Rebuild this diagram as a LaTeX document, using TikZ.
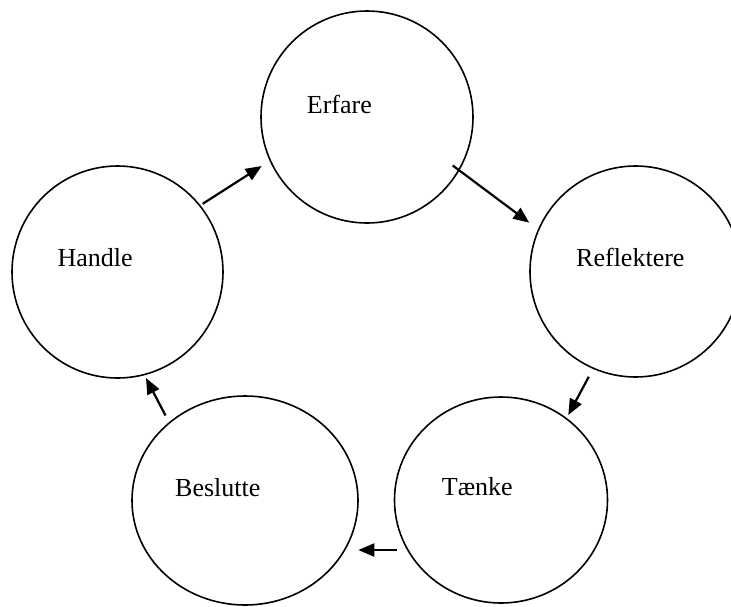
\documentclass[tikz,border=0pt]{standalone}
\usepackage{fontspec}
\setmainfont{Liberation Serif}
\usetikzlibrary{shapes.geometric,arrows.meta}
\begin{document}
\begin{tikzpicture}[x=1pt,y=-1pt,
  blob/.style={draw=black,ellipse,line width=1.6pt,inner sep=0pt,outer sep=0pt},
  lbl/.style={anchor=base west,inner sep=0pt,font=\fontsize{26}{30}\selectfont},
  flow/.style={line width=2.2pt,-{Triangle[length=16pt,width=13pt]}}]
\useasboundingbox (0,0) rectangle (731,606);
\node[blob,minimum width=212pt,minimum height=212pt] (erfare) at (367,117) {};
\node[blob,minimum width=211pt,minimum height=211pt] (refl) at (635.5,271.5) {};
\node[blob,minimum width=213pt,minimum height=206pt] (taenke) at (501,500) {};
\node[blob,minimum width=226pt,minimum height=209pt] (beslut) at (245,500.5) {};
\node[blob,minimum width=211pt,minimum height=212pt] (handle) at (117.5,272) {};
\node[lbl] (terfare) at (306.7,113) {Erfare};
\node[lbl] (trefl) at (576,266.7) {Reflektere};
\node[lbl] (ttaenke) at (441.7,495.7) {Tænke};
\node[lbl] (tbeslut) at (175,496.7) {Beslutte};
\node[lbl] (thandle) at (57.3,266.7) {Handle};
\coordinate (a1) at (452.7,165.5);
\coordinate (b1) at (529.3,222.7);
\coordinate (a2) at (588.8,376.7);
\coordinate (b2) at (568.3,415);
\coordinate (a3) at (396.7,550);
\coordinate (b3) at (358.3,550);
\coordinate (a4) at (165.5,415.5);
\coordinate (b4) at (146,378);
\coordinate (a5) at (202.7,203.8);
\coordinate (b5) at (261.7,166);
\draw[flow] (a1) -- (b1);
\draw[flow] (a2) -- (b2);
\draw[flow] (a3) -- (b3);
\draw[flow] (a4) -- (b4);
\draw[flow] (a5) -- (b5);
\end{tikzpicture}
\end{document}
